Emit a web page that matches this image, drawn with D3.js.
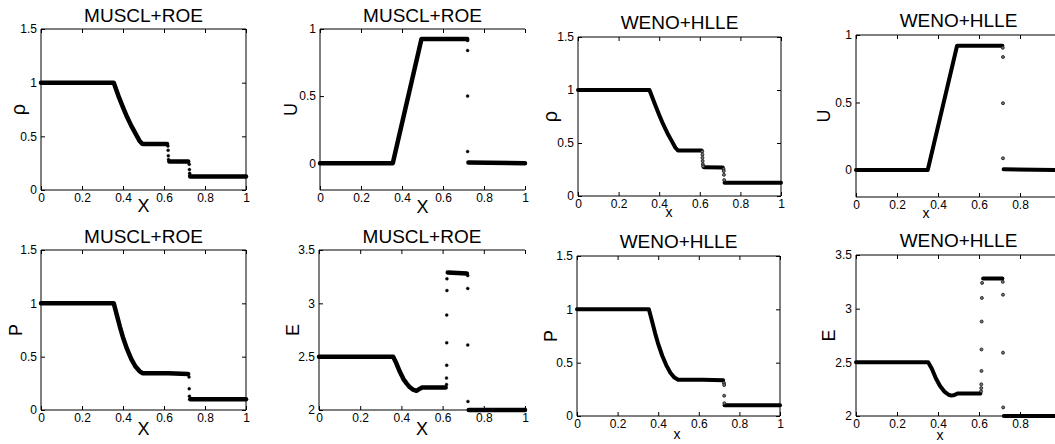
<!DOCTYPE html>
<html>
<head>
<meta charset="utf-8">
<script src="https://cdn.jsdelivr.net/npm/d3@7"></script>
<style>
  body { margin: 0; background: #fff; }
  svg text { font-family: "Liberation Sans", Arial, sans-serif; fill: #000; }
</style>
</head>
<body>
<div id="chart"></div>
<script>
// Tick values / labels
const xTicks = [0, 0.2, 0.4, 0.6, 0.8, 1];
const rhoPTicks = [0, 0.5, 1, 1.5];
const uTicks = [0, 0.5, 1];
const eTicks = [2, 2.5, 3, 3.5];

// MUSCL+ROE : density (continuous segments + isolated points)
const rhoMusclLine = [
  [[0, 1], [0.355, 1], [0.38, 0.865], [0.40, 0.77], [0.42, 0.68], [0.44, 0.60], [0.46, 0.53], [0.48, 0.46], [0.495, 0.428], [0.615, 0.428]],
  [[0.626, 0.266], [0.718, 0.266]],
  [[0.728, 0.125], [1, 0.125]]
];
const rhoMusclDots = [[0.619, 0.41], [0.62, 0.37], [0.621, 0.32], [0.622, 0.285], [0.723, 0.24], [0.724, 0.19], [0.725, 0.155], [0.726, 0.135]];

// MUSCL+ROE : velocity
const uMusclLine = [
  [[0, 0], [0.355, 0], [0.495, 0.925], [0.718, 0.925]],
  [[0.724, 0.005], [1, 0]]
];
const uMusclDots = [[0.72, 0.915], [0.72, 0.84], [0.72, 0.50], [0.72, 0.087]];

// MUSCL+ROE : pressure
const pMusclLine = [
  [[0, 1], [0.355, 1], [0.37, 0.89], [0.385, 0.78], [0.40, 0.68], [0.42, 0.57], [0.44, 0.48], [0.46, 0.41], [0.48, 0.365], [0.495, 0.345], [0.62, 0.345], [0.718, 0.338]],
  [[0.728, 0.1], [1, 0.1]]
];
const pMusclDots = [[0.722, 0.31], [0.723, 0.2], [0.724, 0.13]];

// MUSCL+ROE : energy
const eMusclLine = [
  [[0, 2.5], [0.36, 2.5], [0.375, 2.44], [0.392, 2.36], [0.41, 2.29], [0.425, 2.25], [0.44, 2.215], [0.457, 2.19], [0.473, 2.18], [0.49, 2.2], [0.5, 2.21], [0.615, 2.21]],
  [[0.625, 3.29], [0.718, 3.28]],
  [[0.727, 2.0], [1, 2.0]]
];
const eMusclDots = [[0.619, 2.24], [0.619, 2.30], [0.62, 2.42], [0.62, 2.63], [0.62, 2.89], [0.621, 3.12], [0.621, 3.23], [0.722, 3.26], [0.722, 3.14], [0.722, 2.61], [0.723, 2.08]];

// WENO+HLLE : density
const rhoWenoLine = [
  [[0, 1], [0.352, 1], [0.38, 0.86], [0.40, 0.765], [0.42, 0.675], [0.44, 0.595], [0.46, 0.525], [0.48, 0.455], [0.492, 0.43], [0.609, 0.43]],
  [[0.62, 0.272], [0.713, 0.27]],
  [[0.722, 0.125], [1, 0.125]]
];
const rhoWenoDots = [[0.612, 0.42], [0.613, 0.39], [0.613, 0.36], [0.614, 0.33], [0.615, 0.30], [0.616, 0.28], [0.717, 0.255], [0.718, 0.235], [0.719, 0.2], [0.72, 0.15]];

// WENO+HLLE : velocity
const uWenoLine = [
  [[0, 0], [0.35, 0], [0.493, 0.92], [0.714, 0.92]],
  [[0.72, 0.005], [1, 0]]
];
const uWenoDots = [[0.716, 0.905], [0.717, 0.837], [0.717, 0.495], [0.717, 0.087]];

// WENO+HLLE : pressure
const pWenoLine = [
  [[0, 1], [0.354, 1], [0.37, 0.885], [0.385, 0.775], [0.40, 0.675], [0.42, 0.565], [0.44, 0.475], [0.46, 0.405], [0.48, 0.36], [0.498, 0.34], [0.62, 0.34], [0.72, 0.335]],
  [[0.727, 0.1], [1, 0.1]]
];
const pWenoDots = [[0.724, 0.31], [0.725, 0.29], [0.725, 0.19], [0.726, 0.12]];

// WENO+HLLE : energy
const eWenoLine = [
  [[0, 2.5], [0.352, 2.5], [0.37, 2.44], [0.39, 2.35], [0.41, 2.28], [0.43, 2.23], [0.45, 2.2], [0.465, 2.19], [0.48, 2.195], [0.495, 2.21], [0.607, 2.21]],
  [[0.62, 3.28], [0.714, 3.28]],
  [[0.721, 2.0], [1, 2.0]]
];
const eWenoDots = [[0.61, 2.23], [0.611, 2.26], [0.611, 2.295], [0.612, 2.42], [0.612, 2.62], [0.613, 2.88], [0.614, 3.1], [0.615, 3.24], [0.716, 3.25], [0.717, 3.13], [0.717, 2.59], [0.718, 2.08]];

// Panel layout (pixel boxes + label anchors)
const panels = [
  {title: 'MUSCL+ROE', yl: 'ρ', xl: 'X', l: 41, t: 29, r: 246, b: 190, yd: [0, 1.5], yt: rhoPTicks, lines: rhoMusclLine, dots: rhoMusclDots, ylx: 18, xly: 212},
  {title: 'MUSCL+ROE', yl: 'U', xl: 'X', l: 320, t: 29, r: 525, b: 190, yd: [-0.2, 1], yt: uTicks, lines: uMusclLine, dots: uMusclDots, ylx: 291, xly: 213, noRight: true},
  {title: 'MUSCL+ROE', yl: 'P', xl: 'X', l: 41, t: 250, r: 246, b: 410, yd: [0, 1.5], yt: rhoPTicks, lines: pMusclLine, dots: pMusclDots, ylx: 16, xly: 435},
  {title: 'MUSCL+ROE', yl: 'E', xl: 'X', l: 319, t: 250, r: 525, b: 410, yd: [2, 3.5], yt: eTicks, lines: eMusclLine, dots: eMusclDots, ylx: 293, xly: 435, noRight: true},
  {title: 'WENO+HLLE', yl: 'ρ', xl: 'x', l: 578, t: 37, r: 781, b: 196, yd: [0, 1.5], yt: rhoPTicks, lines: rhoWenoLine, dots: rhoWenoDots, ylx: 550, xly: 217, xlx: 669, weno: true},
  {title: 'WENO+HLLE', yl: 'U', xl: 'x', l: 856, t: 35, r: 1061, b: 197, yd: [-0.2, 1], yt: uTicks, lines: uWenoLine, dots: uWenoDots, ylx: 824, xly: 218, xlx: 926, weno: true},
  {title: 'WENO+HLLE', yl: 'P', xl: 'x', l: 577, t: 256, r: 780, b: 416, yd: [0, 1.5], yt: rhoPTicks, lines: pWenoLine, dots: pWenoDots, ylx: 551, xly: 439, xlx: 677, weno: true},
  {title: 'WENO+HLLE', yl: 'E', xl: 'x', l: 856, t: 255, r: 1061, b: 416, yd: [2, 3.5], yt: eTicks, lines: eWenoLine, dots: eWenoDots, ylx: 829, xly: 440, xlx: 940, weno: true}
];

const W = 1055, H = 444;
const svg = d3.select('#chart').append('svg')
  .attr('width', W).attr('height', H)
  .style('display', 'block');

function drawPanel(p) {
  const x = d3.scaleLinear().domain([0, 1]).range([p.l, p.r]);
  const y = d3.scaleLinear().domain(p.yd).range([p.b, p.t]);
  const g = svg.append('g');

  // labels that would fall past the picture edge are not shown
  const xFmt = d => (x(d) > W - 4 ? '' : String(d));

  // Inward ticks on all four sides
  const axes = [
    [d3.axisBottom(x).tickValues(xTicks).tickFormat(xFmt).tickPadding(3), `translate(0,${p.b})`],
    [d3.axisTop(x).tickValues(xTicks).tickFormat(''), `translate(0,${p.t})`],
    [d3.axisLeft(y).tickValues(p.yt).tickFormat(String).tickPadding(4), `translate(${p.l},0)`]
  ];
  if (!p.noRight) {
    axes.push([d3.axisRight(y).tickValues(p.yt).tickFormat(''), `translate(${p.r},0)`]);
  }
  axes.forEach(([ax, tr]) => {
    const a = g.append('g').attr('transform', tr)
      .call(ax.tickSizeInner(-4).tickSizeOuter(0));
    a.select('.domain').remove();
    a.selectAll('line').attr('stroke', '#000').attr('stroke-width', 1);
    a.selectAll('text').style('font-size', '12px').attr('fill', '#000');
  });

  // Data as thick marker bands
  const line = d3.line().x(d => x(d[0])).y(d => y(d[1]));
  g.selectAll('path.seg').data(p.lines).enter().append('path')
    .attr('class', 'seg')
    .attr('d', line)
    .attr('fill', 'none')
    .attr('stroke', '#000')
    .attr('stroke-width', p.weno ? 4 : 4.5)
    .attr('stroke-linejoin', 'round')
    .attr('stroke-linecap', 'round');

  g.selectAll('circle').data(p.dots).enter().append('circle')
    .attr('cx', d => x(d[0]))
    .attr('cy', d => y(d[1]))
    .attr('r', 1.5)
    .attr('fill', p.weno ? '#777' : '#000')
    .attr('stroke', '#111')
    .attr('stroke-width', p.weno ? 0.8 : 0.4);

  // Box (open on the right where the neighbouring figure covers it)
  const box = p.noRight
    ? `M${p.r},${p.t}H${p.l}V${p.b}H${p.r}`
    : `M${p.l},${p.t}H${p.r}V${p.b}H${p.l}Z`;
  g.append('path').attr('d', box)
    .attr('fill', 'none').attr('stroke', '#000').attr('stroke-width', 1);

  // Title
  g.append('text')
    .attr('x', (p.l + p.r) / 2)
    .attr('y', p.weno ? p.t - 8 : p.t - 7)
    .attr('text-anchor', 'middle')
    .style('font-size', '19px')
    .text(p.title);

  // Axis labels
  g.append('text')
    .attr('x', p.xlx !== undefined ? p.xlx : (p.l + p.r) / 2)
    .attr('y', p.xly)
    .attr('text-anchor', 'middle')
    .style('font-size', p.weno ? '14px' : '18px')
    .text(p.xl);

  g.append('text')
    .attr('transform', `translate(${p.ylx},${(p.t + p.b) / 2}) rotate(-90)`)
    .attr('text-anchor', 'middle')
    .attr('dy', '0.35em')
    .style('font-size', p.yl === 'ρ' ? '20px' : '18px')
    .text(p.yl);
}

panels.forEach(drawPanel);
</script>
</body>
</html>
